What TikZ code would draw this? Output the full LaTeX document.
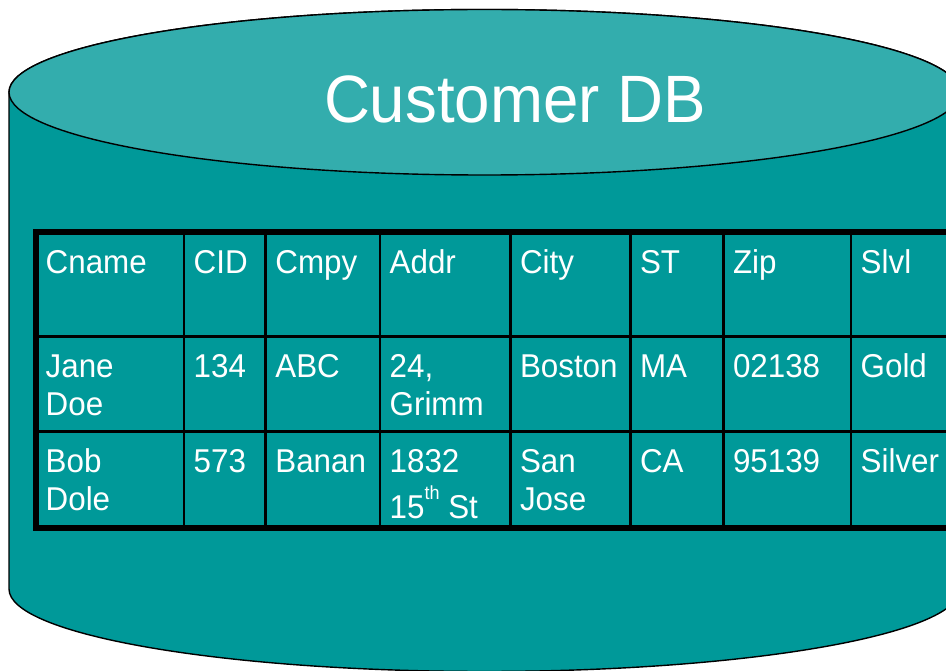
\documentclass[tikz,border=0pt]{standalone}
\usepackage{fontspec}
\setmainfont[FakeStretch=0.95]{Liberation Sans}
\definecolor{dbbody}{HTML}{009999}
\definecolor{dbtop}{HTML}{33ADAD}

\begin{document}
\begin{tikzpicture}[x=1pt,y=1pt,
  cylwall/.style={fill=dbbody, draw=black, line width=1.4pt},
  cyltop/.style={fill=dbtop, draw=black, line width=1.4pt},
  gridline/.style={draw=black, line width=2.7pt},
  tableframe/.style={draw=black, line width=6pt},
  cell/.style={anchor=north west, inner sep=0pt, text=white, align=left,
               font=\fontsize{33}{38}\selectfont},
  dbtitle/.style={anchor=base, inner sep=0pt, text=white,
                  font=\fontsize{67}{80}\selectfont}]
\useasboundingbox (0,0) rectangle (946,-671);
\clip (0,0) rectangle (946,-671);

% cylinder body and lid
\path[cylwall] (9,-92.25) -- (9,-589)
  arc[start angle=180, end angle=360, x radius=475.5, y radius=82.5]
  -- (960,-92.25)
  arc[start angle=0, end angle=180, x radius=475.5, y radius=82.75] -- cycle;
\path[cyltop] (484.5,-92.25) ellipse[x radius=475.5, y radius=82.75];
\node[dbtitle] (title) at (515,-123) {Customer DB};

% table grid: column lines and row lines
\foreach \x in {184,265.7,380,510.3,630.3,723.3,851}
  \draw[gridline] (\x,-232) -- (\x,-527.5);
\foreach \y in {336.3,431.7}
  \draw[gridline] (36,-\y) -- (990,-\y);
\draw[tableframe] (36,-232) rectangle (990,-527.5);

% header row
\node[cell] (hname) at (45.5,-246.4)  {\strut Cname};
\node[cell] (hcid)  at (193.5,-246.4) {\strut CID};
\node[cell] (hcmpy) at (275.2,-246.4) {\strut Cmpy};
\node[cell] (haddr) at (389.5,-246.4) {\strut Addr};
\node[cell] (hcity) at (519.8,-246.4) {\strut City};
\node[cell] (hst)   at (639.8,-246.4) {\strut ST};
\node[cell] (hzip)  at (732.8,-246.4) {\strut Zip};
\node[cell] (hslvl) at (860.5,-246.4) {\strut Slvl};

% first record
\node[cell] (aname) at (45.5,-350.7)  {\strut Jane\\Doe};
\node[cell] (acid)  at (193.5,-350.7) {\strut 134};
\node[cell] (acmpy) at (275.2,-350.7) {\strut ABC};
\node[cell] (aaddr) at (389.5,-350.7) {\strut 24,\\Grimm};
\node[cell] (acity) at (519.8,-350.7) {\strut Boston};
\node[cell] (ast)   at (639.8,-350.7) {\strut MA};
\node[cell] (azip)  at (732.8,-350.7) {\strut 02138};
\node[cell] (aslvl) at (860.5,-350.7) {\strut Gold};

% second record
\node[cell] (bname) at (45.5,-446.1)  {\strut Bob\\Dole};
\node[cell] (bcid)  at (193.5,-446.1) {\strut 573};
\node[cell] (bcmpy) at (275.2,-446.1) {\strut Banan};
\node[cell] (baddr) at (389.5,-446.1)
  {\strut 1832\\15\raisebox{19pt}{\fontsize{19}{19}\selectfont th} St};
\node[cell] (bcity) at (519.8,-446.1) {\strut San\\Jose};
\node[cell] (bst)   at (639.8,-446.1) {\strut CA};
\node[cell] (bzip)  at (732.8,-446.1) {\strut 95139};
\node[cell] (bslvl) at (860.5,-446.1) {\strut Silver};
\end{tikzpicture}
\end{document}
